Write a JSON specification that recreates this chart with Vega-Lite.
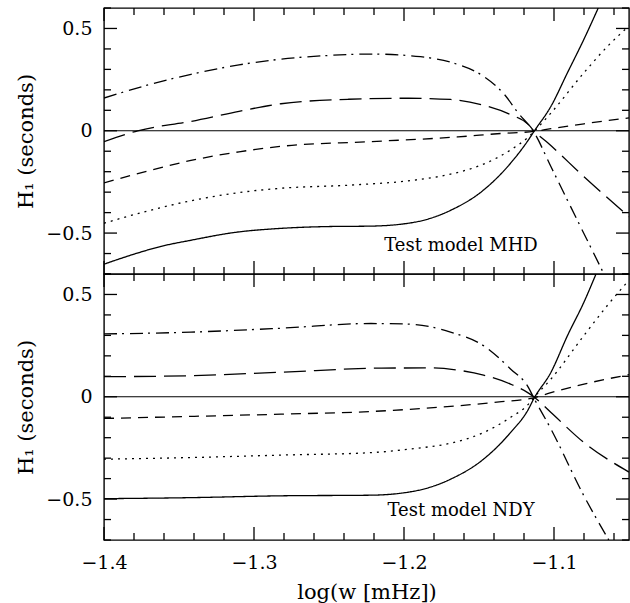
{
  "$schema": "https://vega.github.io/schema/vega-lite/v6.json",
  "padding": {"left": 15, "top": 6, "right": 1, "bottom": 0},
  "background": "white",
  "config": {
    "view": {"stroke": "black", "strokeWidth": 1.4},
    "axis": {
      "grid": false, "domain": false, "ticks": false,
      "labelFont": "DejaVu Serif", "labelFontSize": 19, "labelColor": "black",
      "titleFont": "DejaVu Serif", "titleFontSize": 21, "titleFontWeight": "normal", "titleColor": "black",
      "labelOverlap": false, "labelFlush": false, "labelBound": false
    }
  },
  "datasets": {
    "curves": [
      {"p":"MHD","s":"solid","x":-1.4,"y":-0.652},{"p":"MHD","s":"solid","x":-1.38,"y":-0.603},{"p":"MHD","s":"solid","x":-1.362,"y":-0.565},{"p":"MHD","s":"solid","x":-1.342,"y":-0.535},{"p":"MHD","s":"solid","x":-1.313,"y":-0.497},{"p":"MHD","s":"solid","x":-1.282,"y":-0.477},{"p":"MHD","s":"solid","x":-1.25,"y":-0.468},{"p":"MHD","s":"solid","x":-1.222,"y":-0.466},{"p":"MHD","s":"solid","x":-1.193,"y":-0.447},{"p":"MHD","s":"solid","x":-1.169,"y":-0.389},{"p":"MHD","s":"solid","x":-1.147,"y":-0.29},{"p":"MHD","s":"solid","x":-1.129,"y":-0.159},{"p":"MHD","s":"solid","x":-1.117,"y":-0.044},{"p":"MHD","s":"solid","x":-1.1135,"y":-0.005},{"p":"MHD","s":"solid","x":-1.102,"y":0.12},{"p":"MHD","s":"solid","x":-1.091,"y":0.284},{"p":"MHD","s":"solid","x":-1.08,"y":0.448},{"p":"MHD","s":"solid","x":-1.0705,"y":0.6},
      {"p":"MHD","s":"dotted","x":-1.4,"y":-0.452},{"p":"MHD","s":"dotted","x":-1.37,"y":-0.39},{"p":"MHD","s":"dotted","x":-1.342,"y":-0.342},{"p":"MHD","s":"dotted","x":-1.31,"y":-0.302},{"p":"MHD","s":"dotted","x":-1.282,"y":-0.281},{"p":"MHD","s":"dotted","x":-1.237,"y":-0.266},{"p":"MHD","s":"dotted","x":-1.193,"y":-0.241},{"p":"MHD","s":"dotted","x":-1.169,"y":-0.212},{"p":"MHD","s":"dotted","x":-1.147,"y":-0.163},{"p":"MHD","s":"dotted","x":-1.129,"y":-0.094},{"p":"MHD","s":"dotted","x":-1.117,"y":-0.03},{"p":"MHD","s":"dotted","x":-1.1135,"y":-0.005},{"p":"MHD","s":"dotted","x":-1.102,"y":0.087},{"p":"MHD","s":"dotted","x":-1.08,"y":0.284},{"p":"MHD","s":"dotted","x":-1.064,"y":0.415},{"p":"MHD","s":"dotted","x":-1.05,"y":0.512},
      {"p":"MHD","s":"short","x":-1.4,"y":-0.255},{"p":"MHD","s":"short","x":-1.37,"y":-0.195},{"p":"MHD","s":"short","x":-1.342,"y":-0.145},{"p":"MHD","s":"short","x":-1.31,"y":-0.103},{"p":"MHD","s":"short","x":-1.282,"y":-0.076},{"p":"MHD","s":"short","x":-1.222,"y":-0.053},{"p":"MHD","s":"short","x":-1.164,"y":-0.03},{"p":"MHD","s":"short","x":-1.135,"y":-0.013},{"p":"MHD","s":"short","x":-1.1135,"y":-0.003},{"p":"MHD","s":"short","x":-1.102,"y":0.01},{"p":"MHD","s":"short","x":-1.08,"y":0.034},{"p":"MHD","s":"short","x":-1.05,"y":0.063},
      {"p":"MHD","s":"long","x":-1.4,"y":-0.053},{"p":"MHD","s":"long","x":-1.3775,"y":0.0},{"p":"MHD","s":"long","x":-1.342,"y":0.046},{"p":"MHD","s":"long","x":-1.31,"y":0.095},{"p":"MHD","s":"long","x":-1.282,"y":0.132},{"p":"MHD","s":"long","x":-1.237,"y":0.154},{"p":"MHD","s":"long","x":-1.197,"y":0.159},{"p":"MHD","s":"long","x":-1.169,"y":0.153},{"p":"MHD","s":"long","x":-1.147,"y":0.125},{"p":"MHD","s":"long","x":-1.129,"y":0.079},{"p":"MHD","s":"long","x":-1.117,"y":0.03},{"p":"MHD","s":"long","x":-1.1135,"y":0.0},{"p":"MHD","s":"long","x":-1.104,"y":-0.06},{"p":"MHD","s":"long","x":-1.08,"y":-0.225},{"p":"MHD","s":"long","x":-1.05,"y":-0.42},
      {"p":"MHD","s":"dashdot","x":-1.4,"y":0.16},{"p":"MHD","s":"dashdot","x":-1.37,"y":0.225},{"p":"MHD","s":"dashdot","x":-1.342,"y":0.276},{"p":"MHD","s":"dashdot","x":-1.31,"y":0.322},{"p":"MHD","s":"dashdot","x":-1.282,"y":0.35},{"p":"MHD","s":"dashdot","x":-1.255,"y":0.366},{"p":"MHD","s":"dashdot","x":-1.222,"y":0.375},{"p":"MHD","s":"dashdot","x":-1.189,"y":0.362},{"p":"MHD","s":"dashdot","x":-1.169,"y":0.335},{"p":"MHD","s":"dashdot","x":-1.147,"y":0.266},{"p":"MHD","s":"dashdot","x":-1.133,"y":0.177},{"p":"MHD","s":"dashdot","x":-1.124,"y":0.088},{"p":"MHD","s":"dashdot","x":-1.1135,"y":-0.005},{"p":"MHD","s":"dashdot","x":-1.102,"y":-0.176},{"p":"MHD","s":"dashdot","x":-1.091,"y":-0.34},{"p":"MHD","s":"dashdot","x":-1.08,"y":-0.503},{"p":"MHD","s":"dashdot","x":-1.0667,"y":-0.7},
      {"p":"NDY","s":"solid","x":-1.4,"y":-0.498},{"p":"NDY","s":"solid","x":-1.342,"y":-0.493},{"p":"NDY","s":"solid","x":-1.282,"y":-0.484},{"p":"NDY","s":"solid","x":-1.222,"y":-0.481},{"p":"NDY","s":"solid","x":-1.193,"y":-0.461},{"p":"NDY","s":"solid","x":-1.169,"y":-0.403},{"p":"NDY","s":"solid","x":-1.147,"y":-0.305},{"p":"NDY","s":"solid","x":-1.129,"y":-0.175},{"p":"NDY","s":"solid","x":-1.117,"y":-0.06},{"p":"NDY","s":"solid","x":-1.1135,"y":-0.01},{"p":"NDY","s":"solid","x":-1.102,"y":0.12},{"p":"NDY","s":"solid","x":-1.091,"y":0.299},{"p":"NDY","s":"solid","x":-1.08,"y":0.463},{"p":"NDY","s":"solid","x":-1.072,"y":0.6},
      {"p":"NDY","s":"dotted","x":-1.4,"y":-0.305},{"p":"NDY","s":"dotted","x":-1.342,"y":-0.297},{"p":"NDY","s":"dotted","x":-1.282,"y":-0.285},{"p":"NDY","s":"dotted","x":-1.222,"y":-0.273},{"p":"NDY","s":"dotted","x":-1.193,"y":-0.253},{"p":"NDY","s":"dotted","x":-1.169,"y":-0.227},{"p":"NDY","s":"dotted","x":-1.147,"y":-0.175},{"p":"NDY","s":"dotted","x":-1.129,"y":-0.101},{"p":"NDY","s":"dotted","x":-1.117,"y":-0.036},{"p":"NDY","s":"dotted","x":-1.1135,"y":-0.005},{"p":"NDY","s":"dotted","x":-1.102,"y":0.087},{"p":"NDY","s":"dotted","x":-1.08,"y":0.3},{"p":"NDY","s":"dotted","x":-1.064,"y":0.45},{"p":"NDY","s":"dotted","x":-1.05,"y":0.57},
      {"p":"NDY","s":"short","x":-1.4,"y":-0.106},{"p":"NDY","s":"short","x":-1.342,"y":-0.096},{"p":"NDY","s":"short","x":-1.282,"y":-0.085},{"p":"NDY","s":"short","x":-1.222,"y":-0.072},{"p":"NDY","s":"short","x":-1.164,"y":-0.044},{"p":"NDY","s":"short","x":-1.135,"y":-0.024},{"p":"NDY","s":"short","x":-1.1135,"y":-0.005},{"p":"NDY","s":"short","x":-1.102,"y":0.02},{"p":"NDY","s":"short","x":-1.08,"y":0.062},{"p":"NDY","s":"short","x":-1.05,"y":0.108},
      {"p":"NDY","s":"long","x":-1.4,"y":0.098},{"p":"NDY","s":"long","x":-1.342,"y":0.103},{"p":"NDY","s":"long","x":-1.282,"y":0.12},{"p":"NDY","s":"long","x":-1.215,"y":0.14},{"p":"NDY","s":"long","x":-1.182,"y":0.141},{"p":"NDY","s":"long","x":-1.164,"y":0.13},{"p":"NDY","s":"long","x":-1.147,"y":0.106},{"p":"NDY","s":"long","x":-1.129,"y":0.062},{"p":"NDY","s":"long","x":-1.117,"y":0.018},{"p":"NDY","s":"long","x":-1.1135,"y":0.0},{"p":"NDY","s":"long","x":-1.102,"y":-0.077},{"p":"NDY","s":"long","x":-1.08,"y":-0.224},{"p":"NDY","s":"long","x":-1.05,"y":-0.368},
      {"p":"NDY","s":"dashdot","x":-1.4,"y":0.307},{"p":"NDY","s":"dashdot","x":-1.342,"y":0.316},{"p":"NDY","s":"dashdot","x":-1.282,"y":0.335},{"p":"NDY","s":"dashdot","x":-1.222,"y":0.358},{"p":"NDY","s":"dashdot","x":-1.197,"y":0.355},{"p":"NDY","s":"dashdot","x":-1.169,"y":0.316},{"p":"NDY","s":"dashdot","x":-1.147,"y":0.25},{"p":"NDY","s":"dashdot","x":-1.129,"y":0.136},{"p":"NDY","s":"dashdot","x":-1.117,"y":0.045},{"p":"NDY","s":"dashdot","x":-1.1135,"y":-0.005},{"p":"NDY","s":"dashdot","x":-1.102,"y":-0.158},{"p":"NDY","s":"dashdot","x":-1.08,"y":-0.485},{"p":"NDY","s":"dashdot","x":-1.0635,"y":-0.7}
    ],
    "notes": [
      {"p":"MHD","x":-1.162,"y":-0.565,"label":"Test model MHD"},
      {"p":"NDY","x":-1.162,"y":-0.56,"label":"Test model NDY"}
    ],
    "xt": [
      {"v":-1.4,"k":"M"},{"v":-1.38,"k":"m"},{"v":-1.36,"k":"m"},{"v":-1.34,"k":"m"},{"v":-1.32,"k":"m"},
      {"v":-1.3,"k":"M"},{"v":-1.28,"k":"m"},{"v":-1.26,"k":"m"},{"v":-1.24,"k":"m"},{"v":-1.22,"k":"m"},
      {"v":-1.2,"k":"M"},{"v":-1.18,"k":"m"},{"v":-1.16,"k":"m"},{"v":-1.14,"k":"m"},{"v":-1.12,"k":"m"},
      {"v":-1.1,"k":"M"},{"v":-1.08,"k":"m"},{"v":-1.06,"k":"m"}
    ],
    "yt": [
      {"v":-0.7,"k":"m"},{"v":-0.6,"k":"m"},{"v":-0.5,"k":"M"},{"v":-0.4,"k":"m"},{"v":-0.3,"k":"m"},{"v":-0.2,"k":"m"},{"v":-0.1,"k":"m"},
      {"v":0,"k":"M"},{"v":0.1,"k":"m"},{"v":0.2,"k":"m"},{"v":0.3,"k":"m"},{"v":0.4,"k":"m"},{"v":0.5,"k":"M"},{"v":0.6,"k":"m"}
    ]
  },
  "vconcat": [
    {
      "width": 525, "height": 266,
      "resolve": {"axis": {"x": "independent", "y": "independent"}},
      "layer": [
        {
          "data": {"name": "curves"},
          "transform": [{"filter": "datum.p == 'MHD'"}],
          "mark": {"type": "line", "color": "black", "strokeWidth": 1.3, "clip": true, "interpolate": "monotone"},
          "encoding": {
            "x": {"field": "x", "type": "quantitative", "scale": {"domain": [-1.4, -1.05], "nice": false, "zero": false}, "axis": null},
            "y": {"field": "y", "type": "quantitative", "scale": {"domain": [-0.7, 0.6], "nice": false, "zero": false},
              "axis": {"orient": "left", "values": [-0.5, 0, 0.5], "format": "~g", "labelPadding": 12, "title": "H₁ (seconds)", "titlePadding": 9}},
            "strokeDash": {"field": "s", "type": "nominal", "legend": null,
              "scale": {"domain": ["solid","dotted","short","long","dashdot"], "range": [[1,0],[2,5],[10,7],[22,8],[13,5,2,6]]}}
          }
        },
        {
          "data": {"name": "notes"},
          "transform": [{"filter": "datum.p == 'MHD'"}],
          "mark": {"type": "rule", "color": "black", "strokeWidth": 1.2},
          "encoding": {"y": {"datum": 0, "type": "quantitative", "axis": null}}
        },
        {
          "data": {"name": "notes"},
          "transform": [{"filter": "datum.p == 'MHD'"}],
          "mark": {"type": "text", "font": "DejaVu Serif", "fontSize": 18, "align": "center", "baseline": "middle", "color": "black"},
          "encoding": {
            "x": {"field": "x", "type": "quantitative", "axis": null},
            "y": {"field": "y", "type": "quantitative", "axis": null},
            "text": {"field": "label"}
          }
        },
        {"data": {"name": "xt"}, "transform": [{"filter": "datum.k == 'M'"}], "mark": {"type": "rule", "color": "black", "strokeWidth": 1.3},
         "encoding": {"x": {"field": "v", "type": "quantitative", "axis": null}, "y": {"datum": -0.7, "type": "quantitative", "axis": null}, "y2": {"datum": -0.6365}}},
        {"data": {"name": "xt"}, "transform": [{"filter": "datum.k == 'M'"}], "mark": {"type": "rule", "color": "black", "strokeWidth": 1.3},
         "encoding": {"x": {"field": "v", "type": "quantitative", "axis": null}, "y": {"datum": 0.6, "type": "quantitative", "axis": null}, "y2": {"datum": 0.5365}}},
        {"data": {"name": "xt"}, "transform": [{"filter": "datum.k == 'm'"}], "mark": {"type": "rule", "color": "black", "strokeWidth": 1.3},
         "encoding": {"x": {"field": "v", "type": "quantitative", "axis": null}, "y": {"datum": -0.7, "type": "quantitative", "axis": null}, "y2": {"datum": -0.6658}}},
        {"data": {"name": "xt"}, "transform": [{"filter": "datum.k == 'm'"}], "mark": {"type": "rule", "color": "black", "strokeWidth": 1.3},
         "encoding": {"x": {"field": "v", "type": "quantitative", "axis": null}, "y": {"datum": 0.6, "type": "quantitative", "axis": null}, "y2": {"datum": 0.5658}}},
        {"data": {"name": "yt"}, "transform": [{"filter": "datum.k == 'M'"}], "mark": {"type": "rule", "color": "black", "strokeWidth": 1.3},
         "encoding": {"y": {"field": "v", "type": "quantitative", "axis": null}, "x": {"datum": -1.4, "type": "quantitative", "axis": null}, "x2": {"datum": -1.39133}}},
        {"data": {"name": "yt"}, "transform": [{"filter": "datum.k == 'M'"}], "mark": {"type": "rule", "color": "black", "strokeWidth": 1.3},
         "encoding": {"y": {"field": "v", "type": "quantitative", "axis": null}, "x": {"datum": -1.05, "type": "quantitative", "axis": null}, "x2": {"datum": -1.05867}}},
        {"data": {"name": "yt"}, "transform": [{"filter": "datum.k == 'm'"}], "mark": {"type": "rule", "color": "black", "strokeWidth": 1.3},
         "encoding": {"y": {"field": "v", "type": "quantitative", "axis": null}, "x": {"datum": -1.4, "type": "quantitative", "axis": null}, "x2": {"datum": -1.39533}}},
        {"data": {"name": "yt"}, "transform": [{"filter": "datum.k == 'm'"}], "mark": {"type": "rule", "color": "black", "strokeWidth": 1.3},
         "encoding": {"y": {"field": "v", "type": "quantitative", "axis": null}, "x": {"datum": -1.05, "type": "quantitative", "axis": null}, "x2": {"datum": -1.05467}}}
      ]
    },
    {
      "width": 525, "height": 266,
      "resolve": {"axis": {"x": "independent", "y": "independent"}},
      "layer": [
        {
          "data": {"name": "curves"},
          "transform": [{"filter": "datum.p == 'NDY'"}],
          "mark": {"type": "line", "color": "black", "strokeWidth": 1.3, "clip": true, "interpolate": "monotone"},
          "encoding": {
            "x": {"field": "x", "type": "quantitative", "scale": {"domain": [-1.4, -1.05], "nice": false, "zero": false},
              "axis": {"orient": "bottom", "values": [-1.4, -1.3, -1.2, -1.1], "format": ".1f", "labelPadding": 13, "labelFlush": false, "title": "log(w [mHz])", "titlePadding": 9}},
            "y": {"field": "y", "type": "quantitative", "scale": {"domain": [-0.7, 0.6], "nice": false, "zero": false},
              "axis": {"orient": "left", "values": [-0.5, 0, 0.5], "format": "~g", "labelPadding": 12, "title": "H₁ (seconds)", "titlePadding": 9}},
            "strokeDash": {"field": "s", "type": "nominal", "legend": null,
              "scale": {"domain": ["solid","dotted","short","long","dashdot"], "range": [[1,0],[2,5],[10,7],[22,8],[13,5,2,6]]}}
          }
        },
        {
          "data": {"name": "notes"},
          "transform": [{"filter": "datum.p == 'NDY'"}],
          "mark": {"type": "rule", "color": "black", "strokeWidth": 1.2},
          "encoding": {"y": {"datum": 0, "type": "quantitative", "axis": null}}
        },
        {
          "data": {"name": "notes"},
          "transform": [{"filter": "datum.p == 'NDY'"}],
          "mark": {"type": "text", "font": "DejaVu Serif", "fontSize": 18, "align": "center", "baseline": "middle", "color": "black"},
          "encoding": {
            "x": {"field": "x", "type": "quantitative", "axis": null},
            "y": {"field": "y", "type": "quantitative", "axis": null},
            "text": {"field": "label"}
          }
        },
        {"data": {"name": "xt"}, "transform": [{"filter": "datum.k == 'M'"}], "mark": {"type": "rule", "color": "black", "strokeWidth": 1.3},
         "encoding": {"x": {"field": "v", "type": "quantitative", "axis": null}, "y": {"datum": -0.7, "type": "quantitative", "axis": null}, "y2": {"datum": -0.6365}}},
        {"data": {"name": "xt"}, "transform": [{"filter": "datum.k == 'M'"}], "mark": {"type": "rule", "color": "black", "strokeWidth": 1.3},
         "encoding": {"x": {"field": "v", "type": "quantitative", "axis": null}, "y": {"datum": 0.6, "type": "quantitative", "axis": null}, "y2": {"datum": 0.5365}}},
        {"data": {"name": "xt"}, "transform": [{"filter": "datum.k == 'm'"}], "mark": {"type": "rule", "color": "black", "strokeWidth": 1.3},
         "encoding": {"x": {"field": "v", "type": "quantitative", "axis": null}, "y": {"datum": -0.7, "type": "quantitative", "axis": null}, "y2": {"datum": -0.6658}}},
        {"data": {"name": "xt"}, "transform": [{"filter": "datum.k == 'm'"}], "mark": {"type": "rule", "color": "black", "strokeWidth": 1.3},
         "encoding": {"x": {"field": "v", "type": "quantitative", "axis": null}, "y": {"datum": 0.6, "type": "quantitative", "axis": null}, "y2": {"datum": 0.5658}}},
        {"data": {"name": "yt"}, "transform": [{"filter": "datum.k == 'M'"}], "mark": {"type": "rule", "color": "black", "strokeWidth": 1.3},
         "encoding": {"y": {"field": "v", "type": "quantitative", "axis": null}, "x": {"datum": -1.4, "type": "quantitative", "axis": null}, "x2": {"datum": -1.39133}}},
        {"data": {"name": "yt"}, "transform": [{"filter": "datum.k == 'M'"}], "mark": {"type": "rule", "color": "black", "strokeWidth": 1.3},
         "encoding": {"y": {"field": "v", "type": "quantitative", "axis": null}, "x": {"datum": -1.05, "type": "quantitative", "axis": null}, "x2": {"datum": -1.05867}}},
        {"data": {"name": "yt"}, "transform": [{"filter": "datum.k == 'm'"}], "mark": {"type": "rule", "color": "black", "strokeWidth": 1.3},
         "encoding": {"y": {"field": "v", "type": "quantitative", "axis": null}, "x": {"datum": -1.4, "type": "quantitative", "axis": null}, "x2": {"datum": -1.39533}}},
        {"data": {"name": "yt"}, "transform": [{"filter": "datum.k == 'm'"}], "mark": {"type": "rule", "color": "black", "strokeWidth": 1.3},
         "encoding": {"y": {"field": "v", "type": "quantitative", "axis": null}, "x": {"datum": -1.05, "type": "quantitative", "axis": null}, "x2": {"datum": -1.05467}}}
      ]
    }
  ],
  "spacing": 0,
  "bounds": "flush"
}
